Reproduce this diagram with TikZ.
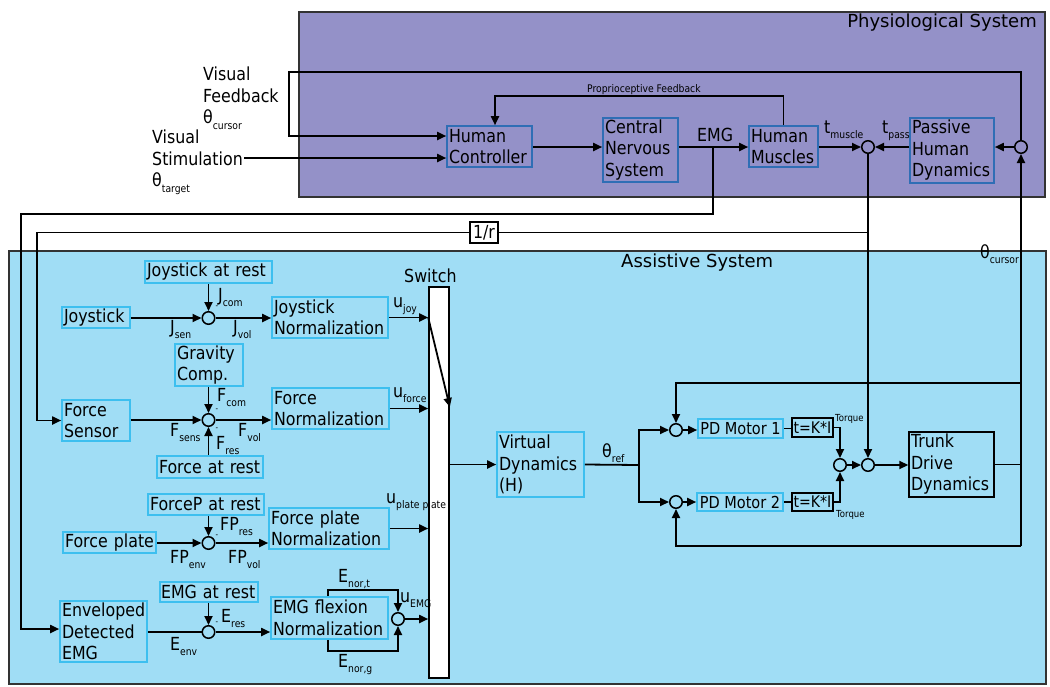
\documentclass[tikz,border=0pt]{standalone}
\usepackage{fontspec}
\setmainfont{DejaVu Sans}[FakeStretch=0.88]
\newfontfamily\titlefont{DejaVu Sans}
\usetikzlibrary{arrows.meta}
\definecolor{physbg}{HTML}{9491C8}
\definecolor{asbg}{HTML}{A0DDF5}
\definecolor{physbd}{HTML}{2F6EB5}
\definecolor{asbd}{HTML}{3DBFEF}
\definecolor{framec}{HTML}{333333}
\newcommand{\nfs}{\fontsize{18}{21.5}\selectfont}
\newcommand{\sfs}{\fontsize{10.5}{12}\selectfont}
\newcommand{\lsub}[1]{\raisebox{-5.5pt}{\sfs #1}}
\begin{document}
\begin{tikzpicture}[x=1pt,y=-1pt,
  pn/.style={draw=physbd, line width=1.6pt, inner xsep=2pt, inner ysep=0pt, align=left, font=\nfs},
  an/.style={draw=asbd, line width=1.6pt, inner xsep=2pt, inner ysep=0pt, align=left, font=\nfs},
  bn/.style={draw=black, line width=1.4pt, inner xsep=2pt, inner ysep=0pt, align=left, font=\nfs},
  sumc/.style={circle, draw=black, line width=1.5pt, minimum size=12.5pt, inner sep=0pt},
  ln/.style={line width=1.8pt, draw=black},
  arr/.style={ln, -{Triangle[length=9pt,width=8pt]}},
  lbl/.style={inner sep=0pt, font=\nfs, anchor=base west},
  slbl/.style={inner sep=0pt, font=\sfs, anchor=base west},
  minus/.style={inner sep=0pt, font=\fontsize{8}{8}\selectfont},
  titl/.style={inner sep=0pt, font=\titlefont\fontsize{18}{21}\selectfont},
]
\useasboundingbox (0,0) rectangle (1050,686);

% system frames
\node[draw=framec, fill=physbg, line width=1.6pt, minimum width=746pt, minimum height=185pt, inner sep=0pt, anchor=north west] (physbox) at (298,11) {};
\node[draw=framec, fill=asbg, line width=1.6pt, minimum width=1037pt, minimum height=433pt, inner sep=0pt, anchor=north west] (asbox) at (8,250) {};
\node[titl, anchor=base east] (phystitle) at (1037,27.5) {Physiological System};
\node[titl, anchor=base west] (astitle) at (621,267) {Assistive System};

% physiological nodes
\node[pn, text width=81pt, minimum height=41pt] (hc) at (489.5,146.5) {Human\\Controller};
\node[pn, text width=71pt, minimum height=64pt] (cns) at (640.5,150) {Central\\Nervous\\System};
\node[pn, text width=65pt, minimum height=41pt] (hm) at (783.5,146.5) {Human\\Muscles};
\node[pn, text width=80pt, minimum height=65pt] (phd) at (952,150.5) {Passive\\Human\\Dynamics};
\node[sumc] (s1) at (868,147) {};
\node[sumc] (s2) at (1021,147) {};

\node[inner sep=0pt, font=\nfs, align=left, anchor=north west] (vf) at (203,67) {Visual\\Feedback\\θ\lsub{cursor}};
\node[inner sep=0pt, font=\nfs, align=left, anchor=north west] (vs) at (152,130) {Visual\\Stimulation\\θ\lsub{target}};
\node[slbl] (proplbl) at (587,92) {Proprioceptive Feedback};
\node[lbl] (emglbl) at (697,141) {EMG};
\node[lbl] (tmus) at (824,133) {t\lsub{muscle}};
\node[lbl] (tpass) at (882,133) {t\lsub{pass}};

% assistive nodes
\node[an, text width=123pt, minimum height=22pt] (jrest) at (208.5,272) {Joystick at rest};
\node[an, text width=64pt, minimum height=21pt] (joy) at (96,317.5) {Joystick};
\node[sumc] (sj) at (208.5,318) {};
\node[an, text width=112pt, minimum height=41pt] (jnorm) at (330,317.5) {Joystick\\Normalization};
\node[an, text width=64pt, minimum height=42pt] (grav) at (209,365) {Gravity\\Comp.};
\node[an, text width=64pt, minimum height=41pt] (fsens) at (96,420.5) {Force\\Sensor};
\node[sumc] (sf) at (208.5,420) {};
\node[an, text width=113pt, minimum height=41pt] (fnorm) at (330.5,408.5) {Force\\Normalization};
\node[an, text width=102pt, minimum height=22pt] (frest) at (210,467) {Force at rest};
\node[an, text width=112pt, minimum height=21pt] (fprest) at (206,504.5) {ForceP at rest};
\node[an, text width=89pt, minimum height=21pt] (fplate) at (109.5,542.5) {Force plate};
\node[sumc] (sfp) at (208.5,543) {};
\node[an, text width=116pt, minimum height=41pt] (fpnorm) at (329,528.5) {Force plate\\Normalization};
\node[an, inner xsep=1pt, text width=96pt, minimum height=20pt] (erest) at (209,592) {EMG at rest};
\node[an, text width=83pt, minimum height=61pt] (env) at (103.5,631.5) {Enveloped\\Detected\\EMG};
\node[sumc] (se) at (208.5,632) {};
\node[an, text width=113pt, minimum height=42pt] (enorm) at (329.5,618) {EMG flexion\\Normalization};
\node[sumc] (su) at (398,619) {};
\node[draw=black, fill=white, line width=1.6pt, minimum width=20pt, minimum height=391pt, inner sep=0pt] (sw) at (439,482.5) {};
\node[lbl] (swlbl) at (404,282) {Switch};
\node[an, text width=83pt, minimum height=65pt] (vd) at (540.5,464.5) {Virtual\\Dynamics\\(H)};
\node[sumc] (c1) at (676,430) {};
\node[sumc] (c2) at (676,502) {};
\node[an, font=\fontsize{16.5}{19}\selectfont, inner xsep=1pt, minimum width=85pt, minimum height=19pt] (pd1) at (740.5,428.5) {PD Motor 1};
\node[an, font=\fontsize{16.5}{19}\selectfont, inner xsep=1pt, minimum width=86pt, minimum height=18pt] (pd2) at (740,502) {PD Motor 2};
\node[bn, font=\fontsize{16}{18}\selectfont, inner xsep=1pt, minimum width=41pt, minimum height=19pt] (k1) at (812.5,427.5) {t=K*I};
\node[bn, font=\fontsize{16}{18}\selectfont, inner xsep=1pt, minimum width=41pt, minimum height=18pt] (k2) at (812.5,502) {t=K*I};
\node[sumc] (c3) at (840,465) {};
\node[sumc] (c4) at (868,465) {};
\node[bn, text width=81pt, minimum height=65pt] (tdd) at (951.5,464.5) {Trunk\\Drive\\Dynamics};
\node[bn, fill=white, inner xsep=3pt, inner ysep=1pt, minimum height=21pt] (ir) at (484,232.5) {1/r};

% labels (assistive)
\node[lbl] (lJcom) at (218,301) {J\lsub{com}};
\node[lbl] (lJsen) at (170,333) {J\lsub{sen}};
\node[lbl] (lJvol) at (233,333) {J\lsub{vol}};
\node[lbl] (lujoy) at (393,307) {u\lsub{joy}};
\node[lbl] (lFcom) at (217,401) {F\lsub{com}};
\node[lbl] (lFsens) at (170,436) {F\lsub{sens}};
\node[lbl] (lFvol) at (238,436) {F\lsub{vol}};
\node[lbl] (lFres) at (216,449) {F\lsub{res}};
\node[lbl] (luforce) at (393,397) {u\lsub{force}};
\node[lbl] (lFPres) at (220,530) {FP\lsub{res}};
\node[lbl] (lFPenv) at (170,563) {FP\lsub{env}};
\node[lbl] (lFPvol) at (228,563) {FP\lsub{vol}};
\node[lbl] (luplate) at (386,503) {u\lsub{plate plate}};
\node[lbl] (lEres) at (221,622) {E\lsub{res}};
\node[lbl] (lEenv) at (170,650) {E\lsub{env}};
\node[lbl] (lEnt) at (338,582) {E\lsub{nor,t}};
\node[lbl] (lEng) at (338,667) {E\lsub{nor,g}};
\node[lbl] (luemg) at (400,602) {u\lsub{EMG}};
\node[lbl] (ltref) at (602,457) {θ\lsub{ref}};
\node[lbl] (ltcur) at (980,258) {θ\lsub{cursor}};
\node[slbl, font=\fontsize{9.7}{11}\selectfont] (torq1) at (835,421) {Torque};
\node[slbl, font=\fontsize{9.7}{11}\selectfont] (torq2) at (836,517) {Torque};
\node[minus] (m1) at (217,307) {-};
\node[minus] (m2) at (217,410) {-};
\node[minus] (m3) at (217,429) {-};
\node[minus] (m4) at (217,536) {-};
\node[minus] (m5) at (217,623) {-};

% coordinates
\coordinate (fbtl) at (289,72);
\coordinate (vsend) at (244,158);
\coordinate (emgj) at (713,147);
\coordinate (emgc) at (21,214);
\coordinate (pfy) at (0,96);
\coordinate (rj) at (868,232.5);
\coordinate (rc) at (37,232.5);
\coordinate (trc) at (1021,383);
\coordinate (brc) at (1021,546);
\coordinate (bj) at (639,465);
\coordinate (lt) at (328,590);
\coordinate (lb) at (328,651);

% physiological connectors
\draw[arr] (hc.east |- emgj) -- (emgj -| cns.west);
\draw[arr] (cns.east |- emgj) -- (emgj -| hm.west);
\draw[arr] (hm.north) -- (hm.north |- pfy) -| ([xshift=5.5pt]hc.north);
\draw[arr] (s1.west -| hm.east) -- (s1.west);
\draw[arr] (s1.east -| phd.west) -- (s1.east);
\draw[arr] (s2.west) -- (s2.west -| phd.east);
\draw[arr] (s2.north) |- (fbtl) |- ([yshift=10.5pt]hc.west);
\draw[arr] (vsend) -- (vsend -| hc.west);
\draw[arr] (emgj) |- (emgc) |- ([yshift=2.5pt]env.west);
\draw[arr] (s1.south) -- (c4.north);
\draw[ln] (rj) -- (ir.east);
\draw[arr] (ir.west) -- (rc) |- (fsens.west);
\draw[arr] (brc) -- (s2.south);

% assistive connectors
\draw[arr] (joy.east |- sj) -- (sj.west);
\draw[arr] (sj.north |- jrest.south) -- (sj.north);
\draw[arr] (sj.east) -- (sj.east -| jnorm.west);
\draw[arr] (fsens.east |- sf) -- (sf.west);
\draw[arr] (sf.north |- grav.south) -- (sf.north);
\draw[arr] (sf.south |- frest.north) -- (sf.south);
\draw[arr] (sf.east) -- (sf.east -| fnorm.west);
\draw[arr] (fplate.east |- sfp) -- (sfp.west);
\draw[arr] (sfp.north |- fprest.south) -- (sfp.north);
\draw[arr] (sfp.east) -- (sfp.east -| fpnorm.west);
\draw[ln] (env.east |- se) -- (se.west);
\draw[arr] (se.north |- erest.south) -- (se.north);
\draw[arr] (se.east) -- (se.east -| enorm.west);
\draw[arr] (lt |- enorm.north) -- (lt) -| (su.north);
\draw[arr] (lb |- enorm.south) -- (lb) -| (su.south);
\draw[arr] (jnorm.east) -- (jnorm.east -| sw.west);
\draw[arr] (fnorm.east) -- (fnorm.east -| sw.west);
\draw[arr] (fpnorm.east) -- (fpnorm.east -| sw.west);
\draw[arr] (su.east) -- (su.east -| sw.west);
\draw[arr] (jnorm.east -| sw.west) -- ([yshift=75.5pt]sw.east);
\draw[arr] (sw.east |- vd.west) -- (vd.west);
\draw[ln] (vd.east) -- (bj);
\draw[arr] (bj) |- (c1.west);
\draw[arr] (bj) |- (c2.west);
\draw[arr] (c1.east) -- (c1.east -| pd1.west);
\draw[arr] (c2.east) -- (c2.east -| pd2.west);
\draw[ln] (pd1.east) -- (pd1.east -| k1.west);
\draw[ln] (pd2.east) -- (pd2.east -| k2.west);
\draw[arr] (k1.east) -| (c3.north);
\draw[arr] (k2.east) -| (c3.south);
\draw[arr] (c3.east) -- (c4.west);
\draw[arr] (c4.east) -- (c4.east -| tdd.west);
\draw[ln] (tdd.east) -- (tdd.east -| brc);
\draw[arr] (trc) -| (c1.north);
\draw[arr] (brc) -| (c2.south);
\end{tikzpicture}
\end{document}
